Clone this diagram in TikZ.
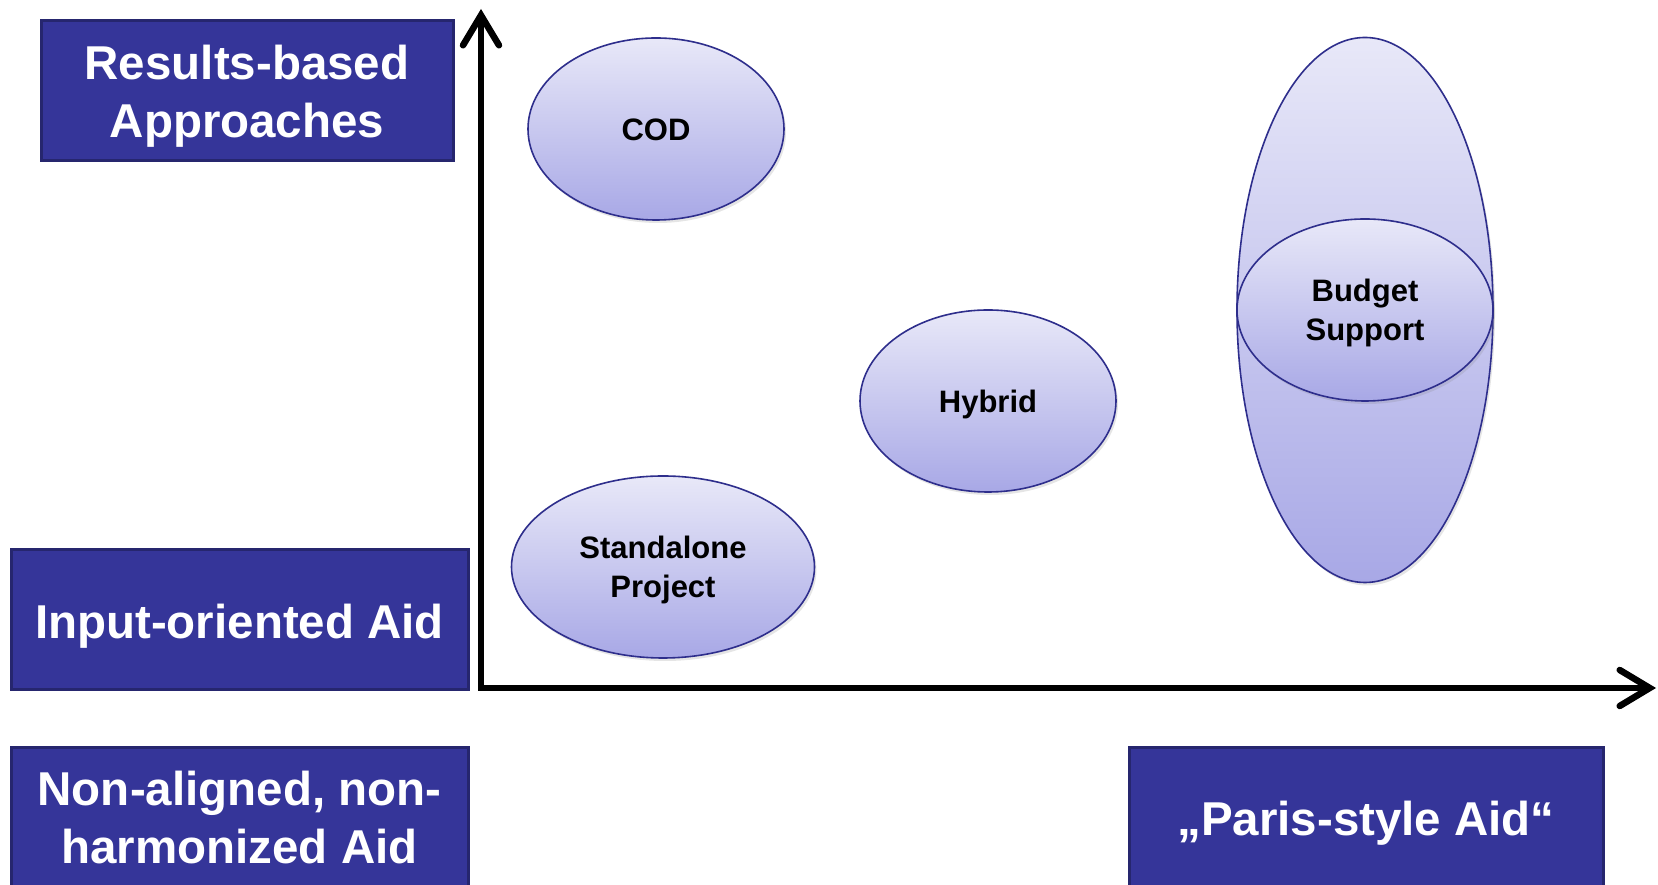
\documentclass[tikz,border=0pt]{standalone}
\usepackage{fontspec}
\setmainfont{Liberation Sans}
\usetikzlibrary{arrows.meta,shapes.geometric,shadows}
\definecolor{boxfill}{RGB}{53,53,153}
\definecolor{boxline}{RGB}{38,38,110}
\definecolor{elltop}{RGB}{232,232,248}
\definecolor{ellbot}{RGB}{168,168,230}
\definecolor{elline}{RGB}{46,46,140}
\tikzset{
  x=1pt,y=1pt,
  labelbox/.style={draw=boxline, line width=3pt, fill=boxfill, text=white, inner sep=0pt,
    align=center, text depth=0pt, font=\fontsize{47.5}{58}\selectfont\bfseries},
  bubble/.style={ellipse, draw=elline, line width=1.6pt, top color=elltop, bottom color=ellbot,
    inner sep=0pt, align=center, text depth=0pt, font=\fontsize{31}{38.5}\selectfont\bfseries,
    drop shadow={opacity=0.2, shadow xshift=2pt, shadow yshift=-3pt}},
  axis/.style={line width=6.5pt, line cap=round, line join=miter,
    {Straight Barb[length=30pt, width=36pt, line width=6.5pt, line cap=round]}-{Straight Barb[length=30pt, width=36pt, line width=6.5pt, line cap=round]}}
}
\begin{document}
\begin{tikzpicture}
\clip (0,0) rectangle (1658,885);
\fill[white] (0,0) rectangle (1658,885);
% label boxes
\node[labelbox, minimum width=412pt, minimum height=140pt] (rba) at (247,794) {Results-based\\Approaches};
\node[labelbox, minimum width=457pt, minimum height=140pt, text height=38pt] (ioa) at (239.5,265) {Input-oriented Aid};
\node[labelbox, minimum width=457pt, minimum height=140pt] (naa) at (239.5,67.5) {Non-aligned, non-\\harmonized Aid};
\node[labelbox, minimum width=474pt, minimum height=140pt, text height=36pt] (psa) at (1366,67.5) {„Paris-style Aid“};
% axes
\coordinate (ytop) at (481,876);
\coordinate (orig) at (481,197);
\coordinate (xend) at (1656,197);
\draw[axis] (ytop) -- (orig) -- (xend);
% bubbles
\node[bubble, minimum width=256pt, minimum height=182pt, text height=22.2pt] (cod) at (656,756) {COD};
\node[bubble, minimum width=256pt, minimum height=182pt, text height=22.2pt] (hyb) at (988,484) {Hybrid};
\node[bubble, minimum width=303pt, minimum height=182pt] (sap) at (663,318) {Standalone\\Project};
\node[bubble, minimum width=256pt, minimum height=545pt] (big) at (1365,575) {};
\node[bubble, minimum width=256pt, minimum height=182pt] (bs) at (1365,575) {Budget\\Support};
\end{tikzpicture}
\end{document}
